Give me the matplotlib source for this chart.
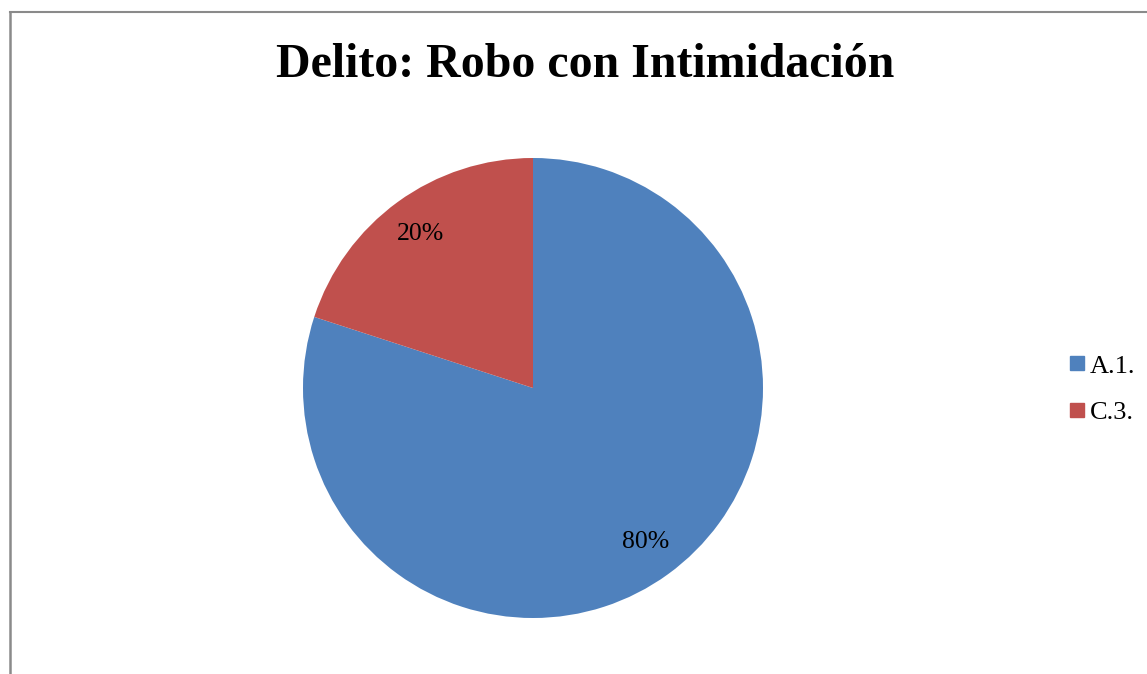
import matplotlib
matplotlib.use("Agg")
import matplotlib.pyplot as plt
from matplotlib.lines import Line2D

categories = ["A.1.", "C.3."]
values = [80, 20]
colors = ["#4F81BD", "#C0504D"]
title = "Delito: Robo con Intimidación"

W, H = 1147, 674
fig = plt.figure(figsize=(W / 100, H / 100), dpi=100)
plt.rcParams['font.family'] = ['Liberation Serif', 'DejaVu Serif']

cx, cy, r = 533, 388, 230
ax = fig.add_axes([(cx - r) / W, (H - cy - r) / H, 2 * r / W, 2 * r / H])
wedges, texts, autotexts = ax.pie(values, colors=colors, startangle=90, counterclock=False,
                                  autopct='%1.0f%%', pctdistance=0.83,
                                  textprops={'fontsize': 18.5, 'color': 'black'},
                                  wedgeprops={'linewidth': 0})
ax.set_xlim(-1, 1)
ax.set_ylim(-1, 1)
ax.set_aspect('equal')
ax.axis('off')

fig.text(585 / W, 1 - 77 / H, title, ha='center', va='baseline', fontsize=34.5, fontweight='bold')

handles = [Line2D([], [], marker='s', linestyle='none', markersize=10, color=c) for c in colors]
fig.legend(handles, categories, loc='center left', bbox_to_anchor=(1069 / W, 1 - 389 / H),
           frameon=False, fontsize=19, handlelength=0.6, handletextpad=0.2, labelspacing=0.87,
           borderpad=0, borderaxespad=0)

border = '#8a8a8a'
fig.add_artist(Line2D([9.5 / W, 9.5 / W], [0, 1 - 12 / H], color=border, lw=1.8, transform=fig.transFigure))
fig.add_artist(Line2D([9.5 / W, 1], [1 - 12 / H, 1 - 12 / H], color=border, lw=1.5, transform=fig.transFigure))

fig.savefig("out.png", dpi=100)
